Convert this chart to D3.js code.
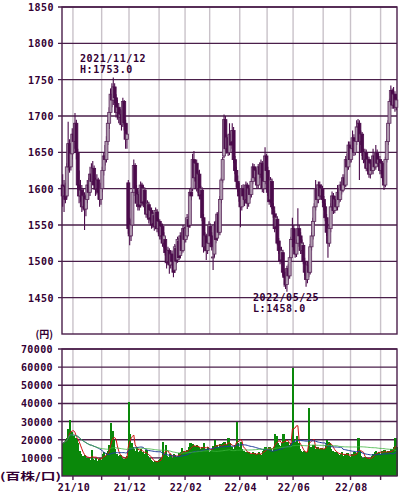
<!DOCTYPE html>
<html><head><meta charset="utf-8">
<script src="https://cdn.jsdelivr.net/npm/d3@7/dist/d3.min.js"></script>
<style>body{margin:0;background:#fff}svg{display:block}</style>
</head><body>
<svg id="c" width="400" height="496"></svg>
<script>
// ---- data ----
const startDate = "2021-09-17", endDate = "2022-09-16";
const holidays = ["2021-09-20","2021-09-23","2021-11-03","2021-11-23","2021-12-31","2022-01-03","2022-01-10","2022-02-11","2022-02-23","2022-03-21","2022-04-29","2022-05-03","2022-05-04","2022-05-05","2022-07-18","2022-08-11"];
const priceTicks = [1450,1500,1550,1600,1650,1700,1750,1800,1850];
const volTicks = [10000,20000,30000,40000,50000,60000,70000];
const monthLabels = ["21/10","21/12","22/02","22/04","22/06","22/08"];

const openPx = [1605,1590,1603,1590,1630,1662,1630,1648,1675,1665,1690,1650,1605,1590,1598,1575,1590,1572,1585,1605,1595,1620,1610,1628,1605,1600,1612,1595,1585,
1600,1625,1645,1640,1665,1690,1705,1730,1722,1740,1725,1705,1712,1698,1702,1688,1720,1690,1668,1608,
1545,1535,1550,1595,1632,1600,1578,1592,1578,1605,1582,1598,1575,1565,1578,1560,1570,1552,1563,1548,1568,1545,
1555,1535,1548,1525,1530,1512,1500,1515,1495,1510,1500,1488,1518,1502,1528,1508,1535,1515,1545,
1530,1535,1558,1550,1595,1600,1640,1615,1635,1600,1620,1592,1598,1560,1520,1535,1515,1525,
1548,1535,1505,1510,1550,1532,1565,1540,1585,1612,1645,1695,1655,1670,1650,1675,1665,1680,1640,1625,1610,1600,
1590,1575,1600,1592,1585,1605,1580,1600,1592,1610,1630,1615,1625,1605,1630,1620,1635,1600,1610,1645,
1625,1595,1585,1610,1575,1565,1548,1558,1528,1515,1502,1512,1485,1478,1468,1490,1480,1505,1530,
1545,1520,1510,1525,1545,1535,1515,1522,1500,1485,1475,1495,1485,1520,1535,1555,1575,1600,1585,1605,1590,1600,
1585,1575,1560,1540,1525,1545,1575,1590,1570,1585,1575,1595,1585,1605,1598,1615,1605,1640,1630,1660,
1640,1655,1670,1650,1665,1685,1690,1665,1675,1650,1640,1650,1628,1640,1620,1635,1625,1645,1630,1650,1635,1640,
1625,1635,1615,1605,1640,1665,1690,1720,1735,1715,1730,1712];
const highPx = [1620,1612,1608,1635,1692,1668,1655,1683,1690,1704,1695,1655,1625,1612,1605,1600,1595,1592,1612,1615,1630,1635,1638,1632,1615,1620,1615,1600,1608,
1630,1650,1660,1672,1695,1712,1738,1745,1753,1745,1730,1722,1718,1710,1708,1725,1722,1695,1690,1612,
1560,1558,1598,1640,1635,1605,1596,1598,1610,1608,1604,1602,1580,1584,1582,1574,1574,1568,1566,1574,1572,1560,
1558,1552,1552,1540,1534,1516,1520,1518,1514,1515,1505,1524,1522,1534,1532,1540,1540,1550,1548,
1548,1565,1562,1600,1602,1648,1652,1640,1640,1625,1626,1604,1602,1565,1540,1538,1530,1555,
1552,1540,1520,1555,1556,1568,1570,1590,1615,1644,1702,1700,1675,1674,1690,1680,1690,1685,1645,1630,1618,1608,
1596,1605,1606,1598,1610,1608,1604,1605,1614,1635,1634,1630,1628,1634,1636,1640,1638,1615,1657,1648,
1630,1600,1616,1614,1580,1570,1566,1562,1532,1520,1520,1516,1490,1482,1494,1496,1508,1534,1560,
1550,1525,1530,1573,1550,1540,1530,1526,1505,1490,1500,1500,1524,1540,1560,1580,1612,1606,1610,1610,1606,1604,
1590,1580,1565,1545,1550,1580,1596,1594,1590,1590,1605,1600,1610,1612,1620,1620,1645,1648,1665,1665,
1660,1680,1675,1670,1694,1696,1694,1680,1678,1655,1655,1654,1645,1644,1640,1640,1655,1650,1660,1654,1648,1645,
1640,1638,1620,1644,1668,1694,1724,1742,1738,1740,1734,1726];
const lowPx = [1575,1568,1580,1588,1625,1622,1625,1640,1650,1655,1640,1598,1580,1582,1568,1570,1543,1562,1580,1585,1590,1600,1605,1598,1590,1592,1585,1575,1578,
1595,1618,1632,1636,1660,1682,1700,1712,1715,1718,1698,1695,1690,1688,1680,1685,1680,1655,1655,1538,
1522,1528,1545,1590,1598,1575,1570,1570,1574,1576,1578,1570,1560,1560,1552,1555,1545,1546,1542,1544,1540,1538,
1530,1530,1520,1518,1508,1490,1496,1483,1490,1495,1478,1484,1496,1498,1502,1504,1510,1512,1525,
1526,1532,1540,1546,1584,1596,1610,1610,1596,1594,1585,1585,1555,1512,1514,1502,1510,1520,
1530,1515,1488,1506,1525,1528,1536,1536,1580,1608,1642,1650,1648,1645,1646,1655,1660,1635,1620,1602,1595,1582,
1547,1570,1584,1576,1580,1572,1575,1585,1588,1606,1610,1610,1600,1600,1614,1615,1595,1594,1606,1620,
1590,1578,1580,1572,1560,1540,1544,1522,1510,1496,1498,1480,1465,1462,1458,1474,1476,1500,1525,
1515,1505,1506,1520,1530,1510,1510,1496,1480,1465,1470,1478,1482,1515,1530,1550,1570,1580,1580,1585,1585,1580,
1570,1555,1535,1505,1520,1540,1570,1565,1566,1570,1570,1580,1582,1592,1595,1600,1602,1625,1626,1635,
1636,1650,1645,1646,1660,1678,1612,1660,1645,1635,1636,1624,1624,1615,1614,1620,1620,1625,1626,1630,1630,1620,
1620,1610,1598,1602,1636,1660,1686,1715,1710,1710,1706,1708];
const closePx = [1590,1603,1585,1630,1662,1630,1648,1675,1665,1690,1650,1605,1590,1598,1575,1590,1572,1585,1605,1595,1620,1610,1628,1605,1600,1612,1595,1585,1600,
1625,1645,1640,1665,1690,1705,1730,1722,1740,1725,1705,1712,1698,1702,1688,1720,1690,1668,1675,1545,
1535,1550,1595,1632,1600,1580,1592,1575,1605,1580,1600,1575,1565,1580,1558,1570,1550,1565,1548,1570,1545,1555,
1535,1548,1525,1535,1512,1498,1515,1495,1510,1500,1485,1520,1500,1530,1505,1535,1515,1545,1530,
1545,1560,1548,1595,1590,1640,1615,1635,1600,1620,1590,1600,1560,1520,1535,1515,1525,1550,
1535,1520,1506,1550,1530,1565,1540,1585,1612,1640,1695,1655,1670,1650,1675,1660,1680,1640,1625,1610,1600,1590,
1575,1600,1590,1585,1605,1580,1600,1592,1610,1630,1615,1625,1605,1630,1620,1635,1600,1610,1645,1625,
1595,1582,1612,1575,1565,1545,1560,1525,1515,1500,1515,1485,1478,1468,1490,1480,1505,1530,1545,
1520,1510,1525,1545,1535,1515,1525,1500,1485,1475,1495,1485,1520,1535,1555,1575,1600,1585,1605,1590,1600,1585,
1575,1560,1540,1525,1545,1575,1590,1570,1585,1575,1595,1585,1605,1598,1615,1605,1640,1630,1660,1640,
1655,1670,1650,1665,1685,1690,1665,1675,1650,1640,1650,1628,1640,1620,1635,1625,1645,1630,1650,1635,1640,1625,
1635,1615,1605,1640,1665,1690,1720,1735,1715,1730,1712,1722];
const volume = [18000,19000,20000,21000,26000,31000,24000,22000,22000,21000,20000,18000,14000,12000,11000,10500,11500,10000,9500,10000,9000,14500,9500,9000,10000,8500,9500,10000,9000,
12000,13000,11000,12500,14000,17000,29000,25000,20000,15000,12000,11000,10500,11500,10000,9500,9000,10000,11000,41000,
23000,18000,16000,15000,14000,16000,13000,14000,15000,13000,12000,11000,14500,11000,10000,9000,8000,7500,8500,7000,8000,9000,
9500,10000,19000,12000,17000,11000,10500,12000,11000,10000,12000,11500,10500,11000,12500,13000,15500,14000,12000,
13000,14500,16000,18000,15500,17500,16500,15000,17000,16000,15000,14000,16000,18000,15000,14500,16000,13500,
14000,15000,16500,20000,17000,15000,16000,17500,16500,18000,19000,17000,16000,21000,18000,16000,14000,15000,17000,30000,18000,16000,
19000,15000,14000,12500,13000,12000,13500,12000,11500,13000,12500,11000,12000,13500,12000,11500,14000,15000,16000,15000,
14500,16000,15000,14000,16000,23000,22000,18000,17000,16500,18000,23000,20000,18000,19000,17000,16000,18000,59500,
20000,19000,22000,18000,15000,14000,13000,14000,12000,13000,14000,37500,16000,15000,17000,15000,14000,16000,15000,14500,15500,14000,
15000,17000,20000,19000,18000,15000,14000,13000,12500,13500,12000,11500,12000,13000,11000,12000,11500,12500,11000,10500,
12000,11000,13000,12500,11500,21000,14000,11000,10000,9500,10500,9000,10000,9500,10000,11000,12000,13000,14000,12500,13500,12000,
14000,13000,14500,13000,12000,14000,13500,15000,14000,16000,21000,16000];
const maWindows = [5, 25, 75];

// ---- trading calendar ----
const fmt = d3.timeFormat("%Y-%m-%d");
const hol = new Set(holidays);
const days = d3.timeDays(new Date(startDate+"T00:00:00"), d3.timeDay.offset(new Date(endDate+"T00:00:00"),1))
  .filter(d => d.getDay()!==0 && d.getDay()!==6 && !hol.has(fmt(d)));
const N = closePx.length;
const data = d3.range(N).map(i => ({i, date: days[i] || null, o: openPx[i], h: highPx[i], l: lowPx[i], c: closePx[i], v: volume[i]}));

// ---- layout ----
const L = 62, R = 397, PT = 7, PB = 334, VT = 349, VB = 476;
const svg = d3.select("#c");
const x = d3.scaleBand().domain(d3.range(N)).range([L, R]).paddingInner(0).paddingOuter(0);
const step = x.step();
const y = d3.scaleLinear().domain([1400, 1850]).range([PB, PT]);
const yv = d3.scaleLinear().domain([0, 70000]).range([VB, VT]);

const purple = "#4a1f4a", txt = "#330033", vgrid = "#c9c2c9";
const font = "'DejaVu Sans Mono', monospace";

const monthStarts = data.filter((d, k) => k > 0 && d.date && data[k-1].date && d.date.getMonth() !== data[k-1].date.getMonth());
const mfmt = d3.timeFormat("%y/%m");

function panel(top, bottom) {
  const g = svg.append("g");
  g.selectAll("line.v").data(monthStarts).join("line")
    .attr("x1", d => x(d.i)).attr("x2", d => x(d.i)).attr("y1", top).attr("y2", bottom)
    .attr("stroke", vgrid).attr("stroke-width", 1.4);
  return g;
}

// price panel
const gp = panel(PT, PB);
gp.selectAll("line.h").data(priceTicks).join("line")
  .attr("x1", L - 4).attr("x2", R).attr("y1", d => y(d)).attr("y2", d => y(d))
  .attr("stroke", purple).attr("stroke-width", 1.4);
gp.selectAll("text.pl").data(priceTicks).join("text")
  .attr("x", 54).attr("y", d => y(d) + 4).attr("text-anchor", "end")
  .attr("font-family", font).attr("font-weight", "bold").attr("font-size", 10)
  .attr("letter-spacing", 0.5).attr("fill", txt).text(d => d);
svg.append("rect").attr("x", L).attr("y", PT).attr("width", R - L).attr("height", PB - PT)
  .attr("fill", "none").attr("stroke", purple).attr("stroke-width", 1.4);

// candles
const bw = 3;
const dark = "#4b0b4b";
const cg = svg.append("g");
cg.selectAll("line.w").data(data).join("line")
  .attr("x1", d => x(d.i) + step/2).attr("x2", d => x(d.i) + step/2)
  .attr("y1", d => y(d.h)).attr("y2", d => y(d.l))
  .attr("stroke", dark).attr("stroke-width", 1.1);
cg.selectAll("rect.b").data(data).join("rect")
  .attr("x", d => x(d.i) + step/2 - bw/2).attr("width", bw)
  .attr("y", d => y(Math.max(d.o, d.c))).attr("height", d => Math.max(1, Math.abs(y(d.o) - y(d.c))))
  .attr("fill", d => d.c >= d.o ? "#b09ab0" : dark)
  .attr("stroke", d => d.c >= d.o ? "#5e2d5e" : dark).attr("stroke-width", 0.8);

// annotations
const hiIdx = d3.maxIndex(data, d => d.h), loIdx = d3.minIndex(data, d => d.l);
const dfmt = d3.timeFormat("%Y/%m/%d");
function note(xp, yp, l1, l2) {
  [l1, l2].forEach((t, k) => svg.append("text").attr("x", xp).attr("y", yp + k * 11)
    .attr("font-family", font).attr("font-weight", "bold").attr("font-size", 10)
    .attr("letter-spacing", 0.6).attr("fill", txt).text(t));
}
note(80, 62, dfmt(data[hiIdx].date), "H:" + data[hiIdx].h.toFixed(1));
note(253, 301, dfmt(data[loIdx].date), "L:" + data[loIdx].l.toFixed(1));

svg.append("text").attr("x", 53).attr("y", 338).attr("text-anchor", "end")
  .attr("font-family", "'Noto Sans CJK JP'").attr("font-weight", "bold").attr("font-size", 10)
  .attr("fill", txt).text("(円)");

// volume panel
const gv = panel(VT, VB);
gv.selectAll("line.h").data(volTicks).join("line")
  .attr("x1", L - 4).attr("x2", R).attr("y1", d => yv(d)).attr("y2", d => yv(d))
  .attr("stroke", purple).attr("stroke-width", 1.4);
gv.selectAll("text.vl").data(volTicks).join("text")
  .attr("x", 53).attr("y", d => yv(d) + 4).attr("text-anchor", "end")
  .attr("font-family", font).attr("font-weight", "bold").attr("font-size", 10)
  .attr("letter-spacing", 0.4).attr("fill", txt).text(d => d);

svg.append("g").attr("shape-rendering", "crispEdges").selectAll("rect").data(data).join("rect")
  .attr("x", d => x(d.i)).attr("width", step + 1)
  .attr("y", d => yv(d.v)).attr("height", d => VB - yv(d.v)).attr("fill", "#0a880a");

const maColors = ["#d01010", "#1f3c9a", "#3cb43c"];
const maWidths = [1, 1, 0.8];
maWindows.forEach((w, k) => {
  const ma = data.map((d, i) => d3.mean(volume.slice(Math.max(0, i - w + 1), i + 1)));
  svg.append("path").datum(ma)
    .attr("d", d3.line().x((m, i) => x(i) + step/2).y(m => yv(m)))
    .attr("fill", "none").attr("stroke", maColors[k]).attr("stroke-width", maWidths[k]);
});

svg.append("rect").attr("x", L).attr("y", VT).attr("width", R - L).attr("height", VB - VT)
  .attr("fill", "none").attr("stroke", purple).attr("stroke-width", 1.4);
svg.append("g").selectAll("line").data(monthStarts).join("line")
  .attr("x1", d => x(d.i)).attr("x2", d => x(d.i)).attr("y1", VB).attr("y2", VB + 4)
  .attr("stroke", purple).attr("stroke-width", 1.4);
svg.append("g").selectAll("text").data(monthStarts.filter(d => monthLabels.includes(mfmt(d.date)))).join("text")
  .attr("x", d => x(d.i) + 1).attr("y", 491).attr("text-anchor", "middle")
  .attr("font-family", font).attr("font-weight", "bold").attr("font-size", 10)
  .attr("letter-spacing", 0.5).attr("fill", txt).text(d => mfmt(d.date));

svg.append("text").attr("x", 0).attr("y", 480)
  .attr("font-family", "'Noto Sans CJK JP'").attr("font-weight", "bold").attr("font-size", 10)
  .attr("textLength", 61).attr("lengthAdjust", "spacingAndGlyphs")
  .attr("fill", txt).text("(百株/口)");
</script>
</body></html>
